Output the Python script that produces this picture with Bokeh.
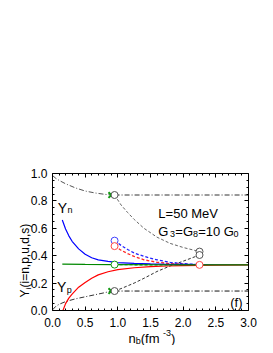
import math
from bokeh.plotting import figure
from bokeh.models import (LinearAxis, Label, Range1d, FixedTicker, NumeralTickFormatter,
                          CustomJSTickFormatter)
from bokeh.embed import file_html
from bokeh.resources import INLINE

# ---- data ----
# pure hadronic matter
x_had = [0.0, 0.05, 0.1, 0.2, 0.35, 0.5, 0.65, 0.8, 0.9]
yn_had = [0.985, 0.965, 0.95, 0.925, 0.895, 0.872, 0.858, 0.848, 0.843]
yp_had = [0.005, 0.03, 0.045, 0.065, 0.085, 0.1, 0.115, 0.13, 0.142]
# hadronic curves continued (beyond onset)
x_had_flat = [0.95, 3.0]
yn_flat = [0.843, 0.843]
yp_flat = [0.142, 0.142]
# mixed phase
x_mix = [0.95, 1.05, 1.15, 1.25, 1.4, 1.6, 1.8, 2.0, 2.25]
yn_mix = [0.843, 0.77, 0.715, 0.665, 0.60, 0.535, 0.49, 0.46, 0.43]
yp_mix = [0.142, 0.16, 0.18, 0.20, 0.235, 0.285, 0.325, 0.36, 0.405]
yd_mix = [0.51, 0.475, 0.445, 0.42, 0.395, 0.37, 0.352, 0.342, 0.335]
ys_mix = [0.47, 0.44, 0.415, 0.395, 0.37, 0.352, 0.342, 0.337, 0.333]
yu_mix = [0.335, 0.335, 0.335, 0.334, 0.334, 0.334, 0.334, 0.333, 0.333]
# pure quark matter
x_qd = [0.15, 0.2, 0.25, 0.3, 0.4, 0.5, 0.6, 0.7, 0.85, 1.0, 1.25, 1.5, 1.75, 2.0, 2.25, 2.5, 3.0]
yd_q = [0.66, 0.595, 0.545, 0.505, 0.45, 0.41, 0.385, 0.37, 0.358, 0.35, 0.344, 0.34, 0.337, 0.336, 0.335, 0.334, 0.334]
x_qs = [0.16, 0.2, 0.25, 0.3, 0.4, 0.5, 0.6, 0.7, 0.85, 1.0, 1.25, 1.5, 1.75, 2.0, 2.25, 2.5, 3.0]
ys_q = [0.0, 0.05, 0.09, 0.12, 0.17, 0.205, 0.235, 0.26, 0.283, 0.298, 0.312, 0.32, 0.325, 0.328, 0.33, 0.331, 0.333]
x_qu = [0.15, 0.5, 0.95, 1.5, 2.0, 3.0]
yu_q = [0.338, 0.336, 0.335, 0.334, 0.333, 0.333]
# markers
x_onset = [0.9, 0.9]
y_onset = [0.843, 0.142]
x_mix_start = [0.95, 0.95]
y_mix_start = [0.843, 0.142]
x_mix_end = [2.25, 2.25]
y_mix_end = [0.43, 0.405]
# axes
x_lim = (0.0, 3.0)
y_lim = (0.0, 1.0)
x_ticks = [0.0, 0.5, 1.0, 1.5, 2.0, 2.5, 3.0]
x_minor = [0.1, 0.2, 0.3, 0.4, 0.6, 0.7, 0.8, 0.9, 1.1, 1.2, 1.3, 1.4, 1.6, 1.7, 1.8, 1.9,
           2.1, 2.2, 2.3, 2.4, 2.6, 2.7, 2.8, 2.9]
y_ticks = [0.0, 0.2, 0.4, 0.6, 0.8, 1.0]
y_minor = [0.05, 0.1, 0.15, 0.25, 0.3, 0.35, 0.45, 0.5, 0.55, 0.65, 0.7, 0.75, 0.85, 0.9, 0.95]

FONT = "Liberation Sans"
W, H = 265, 345
FL, FR, FT, FB = 52, 248, 173, 310   # frame box in canvas pixels
sx = (FR - FL) / (x_lim[1] - x_lim[0])
sy = (FB - FT) / (y_lim[1] - y_lim[0])

p = figure(width=W, height=H, output_backend="svg", toolbar_location=None,
           x_axis_type=None, y_axis_type=None,
           x_range=Range1d(x_lim[0] - FL / sx, x_lim[1] + (W - FR) / sx),
           y_range=Range1d(y_lim[0] - (H - FB) / sy, y_lim[1] + FT / sy),
           min_border=0)
p.grid.visible = False
p.outline_line_color = None
p.background_fill_color = "white"
p.border_fill_color = "white"

xt = FixedTicker(ticks=x_ticks, minor_ticks=x_minor)
yt = FixedTicker(ticks=y_ticks, minor_ticks=y_minor)
blank = CustomJSTickFormatter(code="return ''")

def mk_axis(ticker, loc, fixed, bounds, labels):
    a = LinearAxis(ticker=ticker, fixed_location=fixed, bounds=bounds,
                   major_tick_in=4, major_tick_out=0, minor_tick_in=2, minor_tick_out=0,
                   axis_line_color="black", major_tick_line_color="black",
                   minor_tick_line_color="black",
                   major_label_text_font=FONT, major_label_text_font_size="12px",
                   major_label_text_color="black")
    if labels:
        a.formatter = NumeralTickFormatter(format="0.0")
        a.major_label_standoff = 7 if loc == "below" else 5
    else:
        a.formatter = blank
    p.add_layout(a, loc)

mk_axis(xt, "below", y_lim[0], x_lim, True)
mk_axis(yt, "left", x_lim[0], y_lim, True)
mk_axis(xt, "above", y_lim[1], x_lim, False)
mk_axis(yt, "right", x_lim[1], y_lim, False)

# hadronic
p.line(x_had, yn_had, color="#555555", line_width=1, line_dash="5 2 1 2")
p.line(x_had, yp_had, color="#333333", line_width=1, line_dash="5 2 1 2")
p.line(x_had_flat, yn_flat, color="#333333", line_width=1, line_dash="5 2 1 2")
p.line(x_had_flat, yp_flat, color="#111111", line_width=1, line_dash="5 2 1 2")
# mixed
p.line(x_mix, yn_mix, color="#666666", line_width=1, line_dash="3 2")
p.line(x_mix, yp_mix, color="#333333", line_width=1, line_dash="3 2")
p.line(x_mix, yd_mix, color="#2222ff", line_width=1.3, line_dash="3 2")
p.line(x_mix, ys_mix, color="#ff2222", line_width=1.3, line_dash="3 2")
p.line(x_mix, yu_mix, color="#119911", line_width=1.3, line_dash="3 2")
# quark
p.line(x_qd, yd_q, color="#0000ff", line_width=1.2)
p.line(x_qs, ys_q, color="#ff0000", line_width=1.2)
p.line(x_qu, yu_q, color="#008800", line_width=1.2)

# markers
p.scatter(x_onset, y_onset, marker="x", size=8, line_width=2, color="#119911")
p.scatter(x_mix_start, y_mix_start, marker="circle", size=7, fill_color="white", line_color="#555555")
p.scatter(x_mix_end, y_mix_end, marker="circle", size=7, fill_color="white", line_color="#555555")
p.scatter([0.95], [0.51], marker="circle", size=7, fill_color="white", line_color="#4444ff")
p.scatter([0.95], [0.47], marker="circle", size=7, fill_color="white", line_color="#ff4444")
p.scatter([0.95], [0.335], marker="circle", size=7, fill_color="white", line_color="#119911")
p.scatter([2.25], [0.333], marker="circle", size=7, fill_color="white", line_color="#ff4444")

def lab(x, y, t, size=13, **kw):
    kw.setdefault("text_baseline", "alphabetic")
    p.add_layout(Label(x=x, y=y, text=t, text_font=FONT, text_font_size=f"{size}px",
                       text_color="black", **kw))

# annotations
lab(0.08, 0.75, "Y", 14)
lab(0.23, 0.73, "n", 9)
lab(0.07, 0.17, "Y", 14)
lab(0.22, 0.15, "p", 9)
lab(1.62, 0.71, "L=50 MeV", 13)
lab(1.62, 0.575, "G", 13)
lab(1.80, 0.555, "3", 9)
lab(1.88, 0.575, "=G", 13)
lab(2.15, 0.555, "8", 9)
lab(2.23, 0.575, "=10 G", 13)
lab(2.77, 0.555, "0", 9)
lab(2.72, 0.055, "(f)", 13)

# x-axis label
lab(1.163, -0.204, "n", 13)
lab(1.274, -0.226, "b", 9)
lab(1.35, -0.204, " (fm", 13)
lab(1.693, -0.161, "-3", 9)
lab(1.815, -0.204, ")", 13)

# y-axis label (rotated)
ang = math.pi / 2
lab(-0.42, 0.095, "Y", 12, angle=ang)
lab(-0.36, 0.153, "i", 8, angle=ang)
lab(-0.42, 0.168, " (i=n,p,u,d,s)", 12, angle=ang)

open("out.html", "w").write(file_html(p, INLINE))
